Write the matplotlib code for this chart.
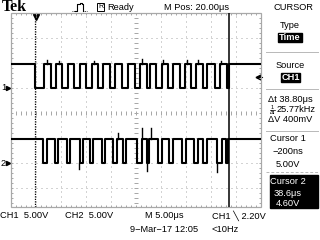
import matplotlib
matplotlib.use("Agg")
import matplotlib.pyplot as plt
from matplotlib.patches import Rectangle

# scope settings
sec_per_div = 5.0    # us / div
volt_per_div = 5.0   # V / div
h_pos = 20.0         # us at screen centre
ch1_offset = 1.0     # div
ch2_offset = -2.0    # div

# CH1 starts high and toggles at each edge time (us)
ch1_high, ch1_low = 4.8, 0.0
ch1_edges = [-0.2, 1.6, 3.0, 4.0, 5.2, 6.4, 7.6, 8.8, 10.0, 11.2, 12.4, 13.4,
             14.8, 15.8, 17.2, 18.4, 19.8, 20.8, 22.2, 22.8, 24.0, 25.2, 26.4,
             27.4, 28.8, 29.8, 31.0, 32.0, 33.4, 34.2, 35.8, 36.8, 38.2, 38.5]
ch1_spikes = [(2.1, 5.6), (4.5, 5.4), (11.6, 5.4), (21.1, 5.8), (25.4, 5.6),
              (30.2, 5.6), (32.4, 5.6), (37.0, 5.4)]

# CH2 starts high, short low pulses
ch2_high, ch2_low = 4.8, 0.0
ch2_edges = [1.4, 2.2, 3.8, 4.4, 6.2, 6.8, 8.8, 9.4, 10.8, 11.4, 13.2, 13.8,
             15.4, 16.2, 17.4, 18.0, 20.2, 21.2, 22.2, 22.6, 24.4, 25.2, 26.6,
             27.4, 29.2, 30.0, 31.6, 32.4, 33.4, 34.2, 36.2, 37.2, 38.0, 38.4]
ch2_spikes = [(16.4, 6.0), (21.2, 7.0), (23.0, 7.0), (22.2, -1.6),
              (8.6, -1.2), (36.2, -1.8)]

cursor1_t = -0.2
cursor2_t = 38.6
trig_level = 2.2

W, H = 320, 240
DIV = 25                     # pixels per division
GX0, GX1, GY0, GY1 = 11, 261, 13, 207
GRID = "#a8a8a8"
FONT = ["Liberation Sans", "DejaVu Sans"]
FS = 6.7


def step_trace(edges, hi, lo, t0, t1):
    xs, ys = [t0], [hi]
    level = hi
    for e in edges:
        xs.append(e)
        ys.append(level)
        level = lo if level == hi else hi
        xs.append(e)
        ys.append(level)
    xs.append(t1)
    ys.append(level)
    return xs, ys


fig = plt.figure(figsize=(W / 100, H / 100), dpi=100)
fig.patch.set_facecolor("white")

# pixel-space layer for text and furniture
bg = fig.add_axes([0, 0, 1, 1])
bg.set_xlim(0, W)
bg.set_ylim(H, 0)
bg.axis("off")

# waveform axes over the graticule (bottom edge of graticule hidden)
ybot = 4 - (GY1 - GY0) / DIV
ax = fig.add_axes([GX0 / W, 1 - GY1 / H, (GX1 - GX0) / W, (GY1 - GY0) / H])
t0 = h_pos - 5 * sec_per_div
t1 = h_pos + 5 * sec_per_div
ax.set_xlim(t0, t1)
ax.set_ylim(ybot, 4)
ax.axis("off")

dot = (0, (1, 4))
for k in range(1, 10):
    if k != 5:
        ax.axvline(t0 + k * sec_per_div, color=GRID, lw=0.72, ls=dot)
for k in range(-3, 4):
    if k != 0:
        ax.axhline(k, color=GRID, lw=0.72, ls=dot)

# centre cross ticks and border ticks
tx = [t0 + i * sec_per_div / 5 for i in range(1, 50)]
ty = [-4 + i * 0.2 for i in range(1, 40) if -4 + i * 0.2 > ybot]
ax.vlines(tx, -0.08, 0.08, color=GRID, lw=0.72)
ax.hlines(ty, h_pos - 0.4, h_pos + 0.4, color=GRID, lw=0.72)
ax.vlines(tx, 3.92, 4.0, color=GRID, lw=0.72)
ax.vlines(tx, ybot, ybot + 0.08, color=GRID, lw=0.72)
ax.hlines(ty, t0, t0 + 0.4, color=GRID, lw=0.72)
ax.hlines(ty, t1 - 0.4, t1, color=GRID, lw=0.72)
ax.add_patch(Rectangle((t0, ybot), t1 - t0, 4 - ybot, fill=False, ec=GRID,
                       lw=0.9, clip_on=False))

# traces
for edges, hi, lo, spikes, off in [
        (ch1_edges, ch1_high, ch1_low, ch1_spikes, ch1_offset),
        (ch2_edges, ch2_high, ch2_low, ch2_spikes, ch2_offset)]:
    xs, ys = step_trace(edges, hi, lo, t0, t1)
    ax.plot(xs, [v / volt_per_div + off for v in ys], color="black", lw=1.5)
    for t, v in spikes:
        base = hi if v > hi else lo
        ax.plot([t, t], [base / volt_per_div + off, v / volt_per_div + off],
                color="black", lw=1.0)

# cursors
ax.axvline(cursor1_t, ymax=0.97, color="black", lw=0.9, ls=(0, (1, 1)))
ax.axvline(cursor2_t, color="black", lw=1.1)

# trigger position / level markers
bg.plot([35.5], [16.5], marker="v", ms=4, color="black")
bg.plot([35.5, 35.5], [13, 16], color="black", lw=0.8)
ytrig = GY0 + (4 - (trig_level / volt_per_div + ch1_offset)) * DIV
bg.plot([257.5], [ytrig], marker="<", ms=3.5, color="black")
bg.plot([257.5, 262], [ytrig, ytrig], color="black", lw=0.8)

# channel ground markers
for name, off in [("1", ch1_offset), ("2", ch2_offset)]:
    yg = GY0 + (4 - off) * DIV
    bg.text(1, yg, name, fontsize=FS, family=FONT, va="center", ha="left")
    bg.plot([8], [yg], marker=">", ms=3, color="black")


def txt(x, y, s, ha="left", color="black", size=FS, **kw):
    bg.text(x, y, s, ha=ha, va="center", color=color, fontsize=size,
            family=FONT, **kw)


# top line
bg.text(1.5, 7, "Tek", fontsize=11.5, fontweight="bold",
        family=["Liberation Serif", "DejaVu Serif"], va="center", ha="left")
bg.plot([72, 75], [11, 11], color="black", lw=0.6, ls=(0, (1, 1)))
bg.plot([75, 77, 77, 80, 80, 82, 82, 83, 83], [11, 11, 4, 4, 3, 3, 4, 4, 11],
        color="black", lw=0.8)
bg.plot([83, 87], [11, 11], color="black", lw=0.6, ls=(0, (1, 1)))
bg.add_patch(Rectangle((97, 3), 7, 8, fill=False, ec="black", lw=0.7))
txt(100.5, 7, "R", ha="center", size=5)
txt(107, 7, "Ready")
txt(197, 7, "M Pos: 20.00μs", ha="center")
txt(293, 7, "CURSOR", ha="center")

# right menu
sep = "#b8b8b8"
txt(290, 26, "Type", ha="center")
bg.add_patch(Rectangle((278, 33), 24, 9, color="black"))
txt(290, 37.5, "Time", ha="center", color="white", fontweight="bold")
for ys in [52, 89, 131]:
    bg.plot([266, 318], [ys, ys], color=sep, lw=0.7)
bg.plot([266, 318], [172, 172], color=sep, lw=0.7, ls=(0, (3, 2)))
txt(290, 66, "Source", ha="center")
bg.add_patch(Rectangle((281, 73), 19, 9, color="black"))
txt(290.5, 77.5, "CH1", ha="center", color="white", fontweight="bold")
txt(268, 100, "Δt 38.80μs")
txt(272, 107.5, "1", ha="center", size=4)
bg.plot([269.5, 274.5], [109.5, 109.5], color="black", lw=0.5)
txt(272, 112, "Δt", ha="center", size=4)
txt(277, 110, "25.77kHz")
txt(268, 120, "ΔV 400mV")
txt(288, 138.5, "Cursor 1", ha="center")
txt(288, 151.5, "−200ns", ha="center")
txt(288, 164.5, "5.00V", ha="center")
bg.add_patch(Rectangle((270, 175), 48, 33, color="black"))
txt(288, 181.5, "Cursor 2", ha="center", color="white")
txt(288, 193.5, "38.6μs", ha="center", color="white")
txt(288, 204, "4.60V", ha="center", color="white")

# status lines
txt(0, 216, "CH1  5.00V")
txt(65, 216, "CH2  5.00V")
txt(145, 216, "M 5.00μs")
txt(212, 216, "CH1 \u2572 2.20V")
txt(130, 230, "9\u2212Mar\u221217 12:05")
txt(212, 230, "<10Hz")

fig.savefig("out.png", dpi=100, facecolor="white")
